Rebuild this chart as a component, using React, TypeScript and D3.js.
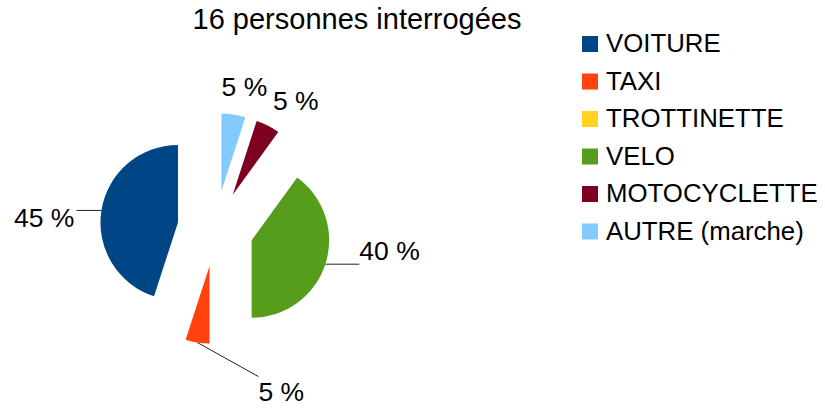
import React, { useRef, useEffect } from "react";
import * as d3 from "d3";

// data
const categories = ["VOITURE", "TAXI", "TROTTINETTE", "VELO", "MOTOCYCLETTE", "AUTRE (marche)"];
const shares = [45, 5, 0, 40, 5, 5];
const colors = ["#004586", "#ff420e", "#ffd320", "#579d1c", "#7e0021", "#83caff"];
const title = "16 personnes interrogées";

// label placement, relative to the outer point of each slice: [text dx, text dy, leader dx, leader dy]
const labelLayout = [
   [-27, 17, -25, 0],
   [61, 58, 61, 34],
   [0, 0, 0, 0],
   [34, -4, 34, 0],
   [5, -16, 0, 0],
   [-12, -18, 0, 0],
];

const App = () => {
   const svgRef = useRef<SVGSVGElement>(null);

   useEffect(() => {
      const w = 825;
      const h = 408;
      const svg = d3.select(svgRef.current).attr("width", w).attr("height", h);
      svg.selectAll("*").remove();

      const font = "'Liberation Sans', Arial, sans-serif";
      const cx = 215.5;
      const cy = 228.5;
      const r = 77.5;
      const explode = 38;

      // title
      svg.append("text")
         .attr("x", 357)
         .attr("y", 29)
         .attr("text-anchor", "middle")
         .style("font-family", font)
         .style("font-size", "29px")
         .text(title);

      // pie, counter clockwise from the top like LibreOffice
      const pie = d3
         .pie<number>()
         .sort(null)
         .startAngle(0)
         .endAngle(-2 * Math.PI);
      const arcs = pie(shares);
      const arc = d3.arc<d3.PieArcDatum<number>>().innerRadius(0).outerRadius(r);

      const g = svg.append("g").attr("transform", `translate(${cx},${cy})`);

      arcs.forEach((a, i) => {
         if (a.value === 0) return;
         const mid = (a.startAngle + a.endAngle) / 2;
         const dx = Math.sin(mid);
         const dy = -Math.cos(mid);
         const ox = dx * explode;
         const oy = dy * explode;

         g.append("path")
            .attr("d", arc(a))
            .attr("transform", `translate(${ox},${oy})`)
            .attr("fill", colors[i]);

         // outer point on the bisector of the exploded slice
         const px = ox + dx * r;
         const py = oy + dy * r;
         const [tx, ty, lx, ly] = labelLayout[i];

         if (lx !== 0 || ly !== 0) {
            g.append("line")
               .attr("x1", px)
               .attr("y1", py)
               .attr("x2", px + lx)
               .attr("y2", py + ly)
               .attr("stroke", "#222")
               .attr("stroke-width", 1);
         }

         g.append("text")
            .attr("x", px + tx)
            .attr("y", py + ty)
            .attr("text-anchor", tx < 0 && i === 0 ? "end" : "start")
            .style("font-family", font)
            .style("font-size", "26.5px")
            .text(`${d3.format(".0f")(a.value)} %`);
      });

      // legend
      const rowY = d3.scalePoint().domain(categories).range([52, 239.5]);
      const legend = svg.append("g");
      categories.forEach((c, i) => {
         const y = rowY(c) as number;
         legend
            .append("rect")
            .attr("x", 582)
            .attr("y", y - 16)
            .attr("width", 16)
            .attr("height", 16)
            .attr("fill", colors[i]);
         legend
            .append("text")
            .attr("x", 606)
            .attr("y", y)
            .style("font-family", font)
            .style("font-size", "25.8px")
            .text(c);
      });
   }, []);

   return (
      <div style={{ position: "absolute", left: 0, top: 0 }}>
         <svg ref={svgRef} style={{ display: "block", background: "#fff" }}></svg>
      </div>
   );
};

export default App;
